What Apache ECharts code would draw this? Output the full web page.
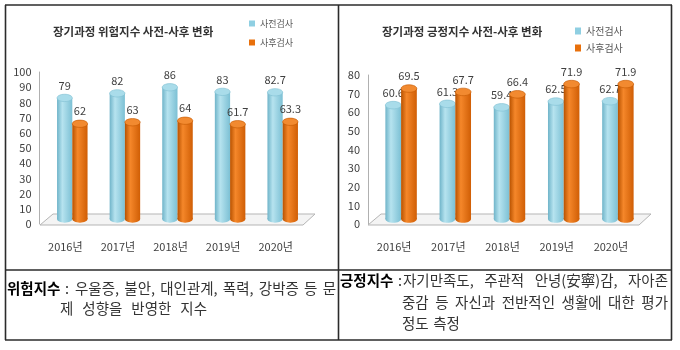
<!DOCTYPE html>
<html><head><meta charset="utf-8">
<script src="https://cdn.jsdelivr.net/npm/echarts@6/dist/echarts.min.js"></script>
<style>html,body{margin:0;padding:0;background:#fff;}#c{width:680px;height:350px;}</style>
</head><body><div id="c"></div>
<script>
// ---- data ----
const years = ['2016년', '2017년', '2018년', '2019년', '2020년'];
const seriesNames = ['사전검사', '사후검사'];
const riskPre = [79, 82, 86, 83, 82.7];
const riskPost = [62, 63, 64, 61.7, 63.3];
const posPre = [60.6, 61.3, 59.4, 62.5, 62.7];
const posPost = [69.5, 67.7, 66.4, 71.9, 71.9];
const riskAxis = { min: 0, max: 100, interval: 10 };
const posAxis = { min: 0, max: 80, interval: 10 };
const titles = ['장기과정 위험지수 사전-사후 변화', '장기과정 긍정지수 사전-사후 변화'];
const noteLeft = { label: '위험지수', lines: [['우울증,', '불안,', '대인관계,', '폭력,', '강박증', '등', '문'], ['제', '성향을', '반영한', '지수']] };
const noteRight = { label: '긍정지수', lines: [['자기만족도,', '주관적', '안녕(安寧)감,', '자아존'], ['중감', '등', '자신과', '전반적인', '생활에', '대한', '평가'], ['정도', '측정']] };

// ---- styles ----
const FF = '"Noto Sans CJK KR", "Noto Sans", sans-serif';
const NOTE_FS = 14.5;
const BLUE = ['#6fb4c9', '#b6e3ef', '#7cc0d4', '#a9dcea', '#7fbfd2'];
const ORANGE = ['#b85200', '#f5872a', '#d05e05', '#f28a30', '#c25800'];

const chart = echarts.init(document.getElementById('c'), null, { renderer: 'canvas' });

function cylinder(side, pal, depth) {
  return function (params, api) {
    const i = api.value(0), v = api.value(1);
    const top = api.coord([i, v]);
    const base = api.coord([i, 0]);
    const band = api.size([1, 0])[0];
    const w = band * 0.29;
    const cx = top[0] + side * w / 2;
    const yT = top[1] - depth, yB = base[1] - depth + 1;
    const rx = w / 2, ry = w * 0.24;
    const grad = new echarts.graphic.LinearGradient(0, 0, 1, 0, [
      { offset: 0, color: pal[0] }, { offset: 0.35, color: pal[1] }, { offset: 1, color: pal[2] }]);
    return {
      type: 'group', children: [
        { type: 'ellipse', shape: { cx: cx, cy: yB, rx: rx, ry: ry }, style: { fill: grad } },
        { type: 'rect', shape: { x: cx - rx, y: yT, width: w, height: yB - yT }, style: { fill: grad } },
        { type: 'ellipse', shape: { cx: cx, cy: yT, rx: rx, ry: ry }, style: { fill: pal[3], stroke: pal[4], lineWidth: 0.6 } },
        { type: 'text', x: cx, y: yT - 12.5, style: { text: String(v), align: 'center', verticalAlign: 'middle', fontSize: 11, fontFamily: FF, fill: '#404040' } }
      ]
    };
  };
}

function floor(params, api) {
  const cs = params.coordSys;
  const y0 = api.coord([0, 0])[1];
  const x0 = cs.x, x1 = cs.x + cs.width;
  return {
    type: 'polygon',
    shape: { points: [[x0 - 6, y0 + 1], [x1 - 6, y0 + 1], [x1 + 6, y0 - 10], [x0 + 7, y0 - 10]] },
    style: { fill: '#f4f4f4', stroke: '#b5b5b5', lineWidth: 1 }
  };
}

function mkSeries(gi, pre, post) {
  return [
    { type: 'custom', xAxisIndex: gi, yAxisIndex: gi, renderItem: floor, data: [[0, 0]], silent: true, z: 1 },
    { type: 'custom', name: seriesNames[0], xAxisIndex: gi, yAxisIndex: gi, renderItem: cylinder(-1, BLUE, 6), itemStyle: { color: '#8fcfe2' }, data: pre.map((v, i) => [i, v]), z: 2 },
    { type: 'custom', name: seriesNames[1], xAxisIndex: gi, yAxisIndex: gi, renderItem: cylinder(1, ORANGE, 6), itemStyle: { color: '#e8700c' }, data: post.map((v, i) => [i, v]), z: 2 }
  ];
}

function xAx(gi) {
  return { type: 'category', gridIndex: gi, data: years, axisLine: { show: false }, axisTick: { show: false },
    axisLabel: { margin: 17, fontSize: 11, fontFamily: FF, color: '#404040', padding: [0, 14, 0, 0] } };
}
function yAx(gi, ax, off) {
  return { type: 'value', gridIndex: gi, min: ax.min, max: ax.max, interval: ax.interval, offset: off,
    splitLine: { show: false }, axisTick: { show: false },
    axisLine: { show: true, lineStyle: { color: '#b0b0b0', width: 1 } },
    axisLabel: { margin: 8, fontSize: 11, fontFamily: FF, color: '#404040' } };
}

// ---- notes (justified text) ----
const mctx = document.createElement('canvas').getContext('2d');
function tw(t, bold) { mctx.font = (bold ? '700 ' : '') + NOTE_FS + 'px ' + FF; return mctx.measureText(t).width; }
function justify(words, x0, x1, y) {
  const ws = words.map(w => tw(w, false));
  const sum = ws.reduce((a, b) => a + b, 0);
  const gap = words.length > 1 ? Math.max(4.5, (x1 - x0 - sum) / (words.length - 1)) : 0;
  let x = x0; const out = [];
  words.forEach((w, k) => {
    out.push({ type: 'text', x: x, y: y, style: { text: w, fontSize: NOTE_FS, fontFamily: FF, fill: '#333', verticalAlign: 'middle' } });
    x += ws[k] + gap;
  });
  return out;
}
function note(n, x0, colonX, restX, indentX, x1, ys, lastEnds) {
  const els = [
    { type: 'text', x: x0, y: ys[0], style: { text: n.label, fontSize: NOTE_FS, fontWeight: 'bold', fontFamily: FF, fill: '#000', verticalAlign: 'middle' } },
    { type: 'text', x: colonX, y: ys[0], style: { text: ':', fontSize: NOTE_FS, fontFamily: FF, fill: '#333', verticalAlign: 'middle' } }
  ];
  n.lines.forEach((ln, k) => {
    const start = k === 0 ? restX : indentX;
    const end = k === n.lines.length - 1 ? lastEnds : x1;
    els.push(...justify(ln, start, end, ys[k]));
  });
  return els;
}

const borders = [
  [[5, 5], [672, 5]], [[5, 270], [672, 270]], [[5, 340], [672, 340]],
  [[5.5, 5], [5.5, 340]], [[338.5, 5], [338.5, 340]], [[671.5, 5], [671.5, 340]]
].map(p => ({ type: 'line', shape: { x1: p[0][0], y1: p[0][1], x2: p[1][0], y2: p[1][1] }, style: { stroke: '#2b2b2b', lineWidth: 1.6 } }));

const option = {
  animation: false,
  backgroundColor: '#fff',
  title: [
    { text: titles[0], left: 53, top: 26, padding: 0, textStyle: { fontSize: 11.5, fontWeight: 'bold', fontFamily: FF, color: '#333' } },
    { text: titles[1], left: 382, top: 26, padding: 0, textStyle: { fontSize: 11.5, fontWeight: 'bold', fontFamily: FF, color: '#333' } }
  ],
  legend: [
    { data: seriesNames, left: 249, top: 19, orient: 'vertical', icon: 'rect', itemWidth: 6, itemHeight: 6, itemGap: 10, padding: 0,
      textStyle: { fontSize: 9, fontFamily: FF, color: '#595959' } },
    { data: seriesNames, left: 575, top: 26, orient: 'vertical', icon: 'rect', itemWidth: 6, itemHeight: 7, itemGap: 7, padding: 0,
      textStyle: { fontSize: 10, fontFamily: FF, color: '#595959' } }
  ],
  grid: [
    { left: 46, right: 371, top: 72, bottom: 126 },
    { left: 374, right: 35, top: 75, bottom: 126 }
  ],
  xAxis: [xAx(0), xAx(1)],
  yAxis: [yAx(0, riskAxis, 6.5), yAx(1, posAxis, 6)],
  series: [...mkSeries(0, riskPre, riskPost), ...mkSeries(1, posPre, posPost)],
  graphic: [
    ...borders,
    ...note(noteLeft, 7, 65, 75, 60, 336, [288, 308], 207),
    ...note(noteRight, 340, 398, 403, 402, 668, [280, 302, 323], 455)
  ]
};
chart.setOption(option);
</script></body></html>
